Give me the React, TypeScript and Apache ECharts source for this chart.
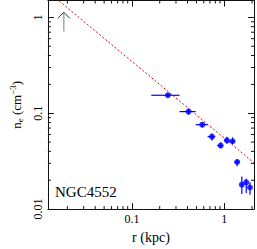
import React, { useEffect, useRef } from "react";
import * as echarts from "echarts";

// Data
const radius = [0.245, 0.41, 0.578, 0.736, 0.915, 1.07, 1.23, 1.38, 1.55, 1.73, 1.9];
const density = [0.154, 0.104, 0.076, 0.057, 0.046, 0.052, 0.051, 0.031, 0.018, 0.019, 0.0168];
const radiusLo = [0.162, 0.328, 0.49, 0.66, 0.84, 0.99, 1.16, 1.29, 1.5, 1.68, 1.85];
const radiusHi = [0.328, 0.49, 0.66, 0.8, 0.96, 1.13, 1.29, 1.46, 1.6, 1.78, 1.95];
const densityLo = [0.145, 0.097, 0.071, 0.052, 0.0435, 0.048, 0.0475, 0.028, 0.0144, 0.0147, 0.0141];
const densityHi = [0.163, 0.111, 0.08, 0.061, 0.0497, 0.0567, 0.056, 0.0331, 0.0219, 0.0207, 0.0191];

// Model power-law line (two end points)
const modelR = [0.0163, 2.1];
const modelN = [1.48, 0.0304];

// Arrow marker (upper-limit style)
const arrowR = [0.0183];
const arrowNLow = [0.714];
const arrowNHigh = [1.13];

// Axis ranges and minor tick values
const X_MIN = 0.0123;
const X_MAX = 2.1;
const Y_MIN = 0.01;
const Y_MAX = 1.5;
const xMinorTicks = [0.02, 0.03, 0.04, 0.05, 0.06, 0.07, 0.08, 0.09, 0.2, 0.3, 0.4, 0.5, 0.6, 0.7, 0.8, 0.9, 2];
const yMinorTicks = [0.02, 0.03, 0.04, 0.05, 0.06, 0.07, 0.08, 0.09, 0.2, 0.3, 0.4, 0.5, 0.6, 0.7, 0.8, 0.9];

const label = "NGC4552";
const FONT = "Liberation Serif";
const AXIS_COLOR = "#111";
const BLUE = "#0000ff";

function isPow10(v: number) {
  const l = Math.log10(v);
  return Math.abs(l - Math.round(l)) < 1e-6;
}
function fmt(v: number) {
  if (!isPow10(v)) return "";
  const l = Math.round(Math.log10(v));
  if (l >= 0) return String(Math.pow(10, l));
  return "0." + "0".repeat(-l - 1) + "1";
}

export default function App() {
  const ref = useRef<HTMLDivElement>(null);
  useEffect(() => {
    document.body.style.margin = "0";
    const chart = echarts.init(ref.current!, null, { renderer: "svg" });

    const errData = radius.map((r, i) => [r, density[i], radiusLo[i], radiusHi[i], densityLo[i], densityHi[i]]);

    const baseX = {
      type: "log",
      logBase: 10,
      min: X_MIN,
      max: X_MAX,
      splitLine: { show: false },
      axisLine: { show: true, onZero: false, lineStyle: { color: AXIS_COLOR, width: 1 } },
      axisTick: { show: true, inside: true, length: 6, lineStyle: { color: AXIS_COLOR, width: 1 } },
    };
    const baseY = {
      type: "log",
      logBase: 10,
      min: Y_MIN,
      max: Y_MAX,
      splitLine: { show: false },
      axisLine: { show: true, onZero: false, lineStyle: { color: AXIS_COLOR, width: 1 } },
      axisTick: { show: true, inside: true, length: 6, lineStyle: { color: AXIS_COLOR, width: 1 } },
    };

    const option: any = {
      animation: false,
      grid: { left: 40.5, right: 3, top: 0.5, bottom: 30.7, containLabel: false },
      xAxis: [
        {
          ...baseX,
          position: "bottom",
          axisLabel: { formatter: fmt, fontFamily: FONT, fontSize: 12, color: "#000", margin: 4, showMinLabel: false, showMaxLabel: false },
          name: "r (kpc)",
          nameLocation: "middle",
          nameGap: 16,
          nameTextStyle: { fontFamily: FONT, fontSize: 14, color: "#000" },
        },
        { ...baseX, position: "top", axisLabel: { show: false } },
      ],
      yAxis: [
        {
          ...baseY,
          position: "left",
          axisLabel: { formatter: fmt, fontFamily: FONT, fontSize: 12, color: "#000", margin: 4, rotate: 90, showMinLabel: true, showMaxLabel: false },
          name: "{a|n}{b|e}{a| (cm}{c|−3}{a|)}",
          nameLocation: "middle",
          nameGap: 22,
          nameRotate: 90,
          nameTextStyle: {
            fontFamily: FONT,
            color: "#000",
            rich: {
              a: { fontFamily: FONT, fontSize: 13, color: "#000", lineHeight: 16, verticalAlign: "middle" },
              b: { fontFamily: FONT, fontSize: 9, color: "#000", lineHeight: 8, verticalAlign: "bottom" },
              c: { fontFamily: FONT, fontSize: 9, color: "#000", lineHeight: 8, verticalAlign: "top" },
            },
          },
        },
        { ...baseY, position: "right", axisLabel: { show: false } },
      ],
      graphic: [
        {
          type: "text",
          left: 55,
          top: 184,
          style: { text: label, fontFamily: FONT, fontSize: 15, fill: "#000" },
        },
      ],
      series: [
        {
          type: "line",
          data: modelR.map((r, i) => [r, modelN[i]]),
          symbol: "none",
          clip: true,
          lineStyle: { color: "#ff0000", width: 1, type: [2, 2] },
          z: 2,
        },
        {
          type: "custom",
          data: xMinorTicks.map((v) => [v, 0.1]),
          clip: false,
          renderItem: (params: any, api: any) => {
            const cs = params.coordSys;
            const x = api.coord([api.value(0), 0.1])[0];
            const bot = cs.y + cs.height;
            const top = cs.y;
            return {
              type: "group",
              children: [
                { type: "line", shape: { x1: x, y1: bot, x2: x, y2: bot - 3 }, style: { stroke: AXIS_COLOR, lineWidth: 1 } },
                { type: "line", shape: { x1: x, y1: top, x2: x, y2: top + 3 }, style: { stroke: AXIS_COLOR, lineWidth: 1 } },
              ],
            };
          },
          z: 1,
        },
        {
          type: "custom",
          data: yMinorTicks.map((v) => [0.1, v]),
          clip: false,
          renderItem: (params: any, api: any) => {
            const cs = params.coordSys;
            const y = api.coord([0.1, api.value(1)])[1];
            const l = cs.x;
            const r = cs.x + cs.width;
            return {
              type: "group",
              children: [
                { type: "line", shape: { x1: l, y1: y, x2: l + 3, y2: y }, style: { stroke: AXIS_COLOR, lineWidth: 1 } },
                { type: "line", shape: { x1: r, y1: y, x2: r - 3, y2: y }, style: { stroke: AXIS_COLOR, lineWidth: 1 } },
              ],
            };
          },
          z: 1,
        },
        {
          type: "custom",
          data: arrowR.map((r, i) => [r, arrowNLow[i], arrowNHigh[i]]),
          renderItem: (params: any, api: any) => {
            const p0 = api.coord([api.value(0), api.value(1)]);
            const p1 = api.coord([api.value(0), api.value(2)]);
            return {
              type: "group",
              children: [
                { type: "line", shape: { x1: p0[0], y1: p0[1], x2: p1[0], y2: p1[1] }, style: { stroke: "#999", lineWidth: 1.3 } },
                {
                  type: "polyline",
                  shape: { points: [[p1[0] - 6, p1[1] + 6], [p1[0], p1[1]], [p1[0] + 6, p1[1] + 6]] },
                  style: { stroke: "#333", lineWidth: 1, fill: "none" },
                },
              ],
            };
          },
          z: 3,
        },
        {
          type: "custom",
          data: errData,
          renderItem: (params: any, api: any) => {
            const c = api.coord([api.value(0), api.value(1)]);
            const xl = api.coord([api.value(2), api.value(1)])[0];
            const xh = api.coord([api.value(3), api.value(1)])[0];
            const yl = api.coord([api.value(0), api.value(4)])[1];
            const yh = api.coord([api.value(0), api.value(5)])[1];
            return {
              type: "group",
              children: [
                { type: "line", shape: { x1: xl, y1: c[1], x2: xh, y2: c[1] }, style: { stroke: BLUE, lineWidth: 1.2 } },
                { type: "line", shape: { x1: c[0], y1: yl, x2: c[0], y2: yh }, style: { stroke: BLUE, lineWidth: 1.2 } },
              ],
            };
          },
          z: 4,
        },
        {
          type: "scatter",
          data: radius.map((r, i) => [r, density[i]]),
          symbol: "circle",
          symbolSize: 6,
          itemStyle: { color: BLUE },
          z: 5,
        },
      ],
    };
    chart.setOption(option);
    return () => chart.dispose();
  }, []);
  return <div ref={ref} style={{ width: 257, height: 249 }} />;
}
